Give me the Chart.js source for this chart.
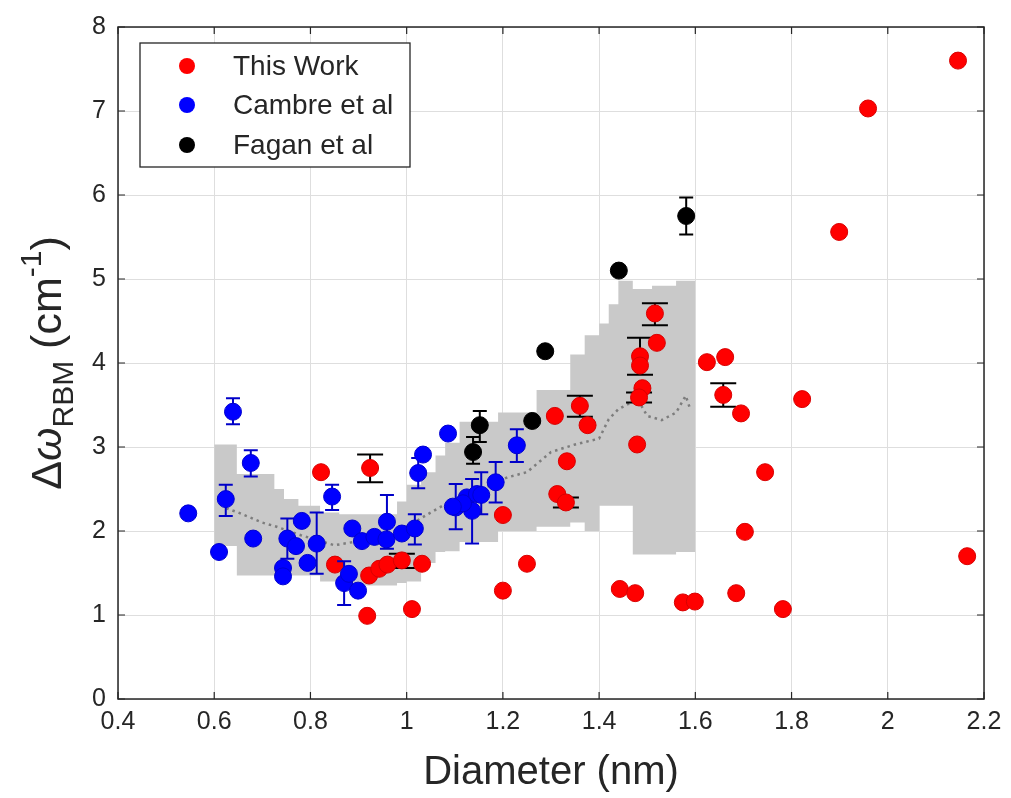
<!DOCTYPE html>
<html><head><meta charset="utf-8">
<script src="https://cdn.jsdelivr.net/npm/chart.js@4.4.1/dist/chart.umd.min.js"></script>
<style>html,body{margin:0;padding:0;background:#fff;}canvas{display:block;}</style>
</head><body>
<canvas id="c" width="1011" height="798"></canvas>
<script>
// ---- Data ----
const seriesNames = ['This Work', 'Cambre et al', 'Fagan et al'];

const redX = [0.822,0.924,0.851,0.918,0.922,0.943,0.960,0.990,1.032,1.011,1.200,1.200,1.250,1.308,1.360,1.376,1.333,1.313,1.331,1.443,1.475,1.479,1.485,1.485,1.490,1.483,1.516,1.520,1.574,1.599,1.624,1.662,1.658,1.695,1.822,1.745,1.703,2.165,1.685,1.782,1.899,1.959,2.146];
const redY = [2.70,2.75,1.60,0.99,1.47,1.55,1.60,1.65,1.61,1.07,2.19,1.29,1.61,3.37,3.49,3.26,2.83,2.44,2.34,1.31,1.26,3.03,4.08,3.97,3.70,3.59,4.59,4.24,1.15,1.16,4.01,4.07,3.62,3.40,3.57,2.70,1.99,1.70,1.26,1.07,5.56,7.03,7.60];
const redErrLow  = [null,2.58,null,null,null,null,null,1.56,null,null,null,null,null,null,3.36,null,null,null,2.28,null,null,null,3.86,null,null,3.53,4.45,null,null,null,null,null,3.48,null,null,null,null,null,null,null,null,null,null];
const redErrHigh = [null,2.91,null,null,null,null,null,1.73,null,null,null,null,null,null,3.61,null,null,null,2.40,null,null,null,4.30,null,null,3.65,4.71,null,null,null,null,null,3.76,null,null,null,null,null,null,null,null,null,null];

const blueX = [0.546,0.610,0.624,0.639,0.676,0.681,0.845,0.782,0.752,0.770,0.813,0.794,0.743,0.743,0.887,0.870,0.899,0.880,0.907,0.933,0.959,0.958,0.990,1.017,1.086,1.034,1.024,1.229,1.185,1.102,1.125,1.146,1.155,1.136,1.117,1.096];
const blueY = [2.21,1.75,2.38,3.42,2.81,1.91,2.41,2.12,1.91,1.82,1.85,1.62,1.56,1.46,2.03,1.38,1.29,1.49,1.88,1.93,2.11,1.90,1.97,2.03,3.16,2.91,2.69,3.02,2.58,2.28,2.40,2.44,2.43,2.24,2.33,2.29];
const blueErrLow  = [null,null,2.18,3.27,2.65,null,2.25,null,1.67,null,1.49,null,null,null,null,1.12,null,null,null,null,1.79,null,null,1.84,null,null,2.51,2.82,2.34,2.02,null,null,2.20,1.85,null,null];
const blueErrHigh = [null,null,2.55,3.58,2.96,null,2.55,null,2.15,null,2.22,null,null,null,null,1.64,null,null,null,null,2.43,null,null,2.20,null,null,2.87,3.21,2.82,2.56,null,null,2.70,2.62,null,null];

const blackX = [1.138,1.152,1.261,1.288,1.441,1.581];
const blackY = [2.94,3.26,3.31,4.14,5.10,5.75];
const blackErrLow  = [2.80,3.06,null,null,null,5.53];
const blackErrHigh = [3.12,3.43,null,null,null,5.97];

// shaded spread band (stepped)
const bandX     = [0.600,0.647,0.725,0.745,0.775,0.820,0.860,0.980,1.000,1.030,1.060,1.080,1.110,1.190,1.270,1.340,1.370,1.400,1.420,1.440,1.470,1.510,1.560,1.600];
const bandUpper = [3.03,2.68,2.50,2.38,2.30,2.22,2.20,2.35,2.55,2.70,2.90,3.05,3.30,3.41,3.68,4.10,4.33,4.47,4.70,4.98,4.88,4.92,4.98,4.98];
const bandLower = [1.82,1.47,1.47,1.47,1.47,1.40,1.35,1.38,1.40,1.62,1.75,1.76,1.87,2.00,2.05,2.10,2.00,2.30,2.30,2.30,1.72,1.72,1.75,1.75];

// running mean (dotted)
const meanX = [0.625,0.650,0.700,0.730,0.780,0.850,0.900,0.950,1.000,1.050,1.090,1.150,1.210,1.250,1.300,1.350,1.400,1.420,1.440,1.480,1.500,1.530,1.560,1.580,1.590];
const meanY = [2.27,2.22,2.10,2.05,1.95,1.83,1.88,1.95,2.05,2.22,2.35,2.48,2.64,2.70,2.94,3.03,3.10,3.33,3.45,3.57,3.37,3.32,3.41,3.61,3.44];

const xTickValues = [0.4,0.6,0.8,1.0,1.2,1.4,1.6,1.8,2.0,2.2];
const xTickLabels = ['0.4','0.6','0.8','1','1.2','1.4','1.6','1.8','2','2.2'];
const yTickLabels = ['0','1','2','3','4','5','6','7','8'];

// ---- Build ----
const FONT = "'Liberation Sans', Arial, Helvetica, sans-serif";
const AX = '#262626';
const pts = (xs, ys) => xs.map((x, i) => ({x: x, y: ys[i]}));

const datasets = [
  {label: seriesNames[0], data: pts(redX, redY), errLow: redErrLow, errHigh: redErrHigh, errColor: '#000000', capHalf: 13,
   backgroundColor: '#ff0000', borderColor: '#d80000', borderWidth: 1, pointRadius: 8.5, order: 3},
  {label: seriesNames[1], data: pts(blueX, blueY), errLow: blueErrLow, errHigh: blueErrHigh, errColor: '#0000c8', capHalf: 7,
   backgroundColor: '#0000ff', borderColor: '#0000d0', borderWidth: 1, pointRadius: 8.5, order: 2},
  {label: seriesNames[2], data: pts(blackX, blackY), errLow: blackErrLow, errHigh: blackErrHigh, errColor: '#000000', capHalf: 7,
   backgroundColor: '#000000', borderColor: '#000000', borderWidth: 1, pointRadius: 8.5, order: 1},
  {type: 'line', label: 'band-upper', data: pts(bandX, bandUpper), stepped: true, fill: '+1', backgroundColor: '#c9c9c9',
   borderColor: 'rgba(0,0,0,0)', borderWidth: 0, pointRadius: 0, order: 6},
  {type: 'line', label: 'band-lower', data: pts(bandX, bandLower), stepped: true, fill: false,
   borderColor: 'rgba(0,0,0,0)', borderWidth: 0, pointRadius: 0, order: 6},
  {type: 'line', label: 'mean', data: pts(meanX, meanY), fill: false, borderColor: '#7d7d7d', borderWidth: 2.5,
   borderDash: [2.5, 4], pointRadius: 0, tension: 0, order: 4}
];

const decor = {
  id: 'decor',
  beforeDatasetDraw(chart, args) {
    const ds = chart.data.datasets[args.index];
    if (!ds.errLow) return;
    const xs = chart.scales.x, ys = chart.scales.y, ctx = chart.ctx;
    ctx.save();
    ctx.strokeStyle = ds.errColor; ctx.lineWidth = 2;
    ds.data.forEach((p, i) => {
      const lo = ds.errLow[i], hi = ds.errHigh[i];
      if (lo == null || hi == null) return;
      const px = xs.getPixelForValue(p.x), pl = ys.getPixelForValue(lo), ph = ys.getPixelForValue(hi);
      ctx.beginPath();
      ctx.moveTo(px, pl); ctx.lineTo(px, ph);
      ctx.moveTo(px - ds.capHalf, pl); ctx.lineTo(px + ds.capHalf, pl);
      ctx.moveTo(px - ds.capHalf, ph); ctx.lineTo(px + ds.capHalf, ph);
      ctx.stroke();
    });
    ctx.restore();
  },
  afterDraw(chart) {
    const ctx = chart.ctx, a = chart.chartArea, xs = chart.scales.x, ys = chart.scales.y;
    ctx.save();
    // frame
    ctx.strokeStyle = AX; ctx.lineWidth = 1.5;
    ctx.strokeRect(a.left, a.top, a.right - a.left, a.bottom - a.top);
    // inward ticks on all sides
    ctx.lineWidth = 1.2;
    ctx.beginPath();
    xTickValues.forEach(v => {
      const px = xs.getPixelForValue(v);
      ctx.moveTo(px, a.bottom); ctx.lineTo(px, a.bottom - 7);
      ctx.moveTo(px, a.top); ctx.lineTo(px, a.top + 7);
    });
    yTickLabels.forEach(l => {
      const py = ys.getPixelForValue(+l);
      ctx.moveTo(a.left, py); ctx.lineTo(a.left + 7, py);
      ctx.moveTo(a.right, py); ctx.lineTo(a.right - 7, py);
    });
    ctx.stroke();

    // legend
    const L = {left: 140, top: 43, right: 410, bottom: 167};
    ctx.fillStyle = '#ffffff';
    ctx.fillRect(L.left, L.top, L.right - L.left, L.bottom - L.top);
    ctx.strokeStyle = AX; ctx.lineWidth = 1.3;
    ctx.strokeRect(L.left, L.top, L.right - L.left, L.bottom - L.top);
    const rowsY = [66, 105, 145];
    chart.data.datasets.slice(0, 3).forEach((ds, i) => {
      ctx.beginPath();
      ctx.arc(187, rowsY[i], 8, 0, Math.PI * 2);
      ctx.fillStyle = ds.backgroundColor; ctx.fill();
      ctx.fillStyle = AX;
      ctx.font = '28px ' + FONT;
      ctx.textAlign = 'left'; ctx.textBaseline = 'middle';
      ctx.fillText(ds.label, 233, rowsY[i] + 1);
    });

    // x title
    ctx.fillStyle = AX;
    ctx.font = '40px ' + FONT;
    ctx.textAlign = 'center'; ctx.textBaseline = 'alphabetic';
    ctx.fillText('Diameter (nm)', (a.left + a.right) / 2, 784);

    // y title with sub/superscripts
    const segs = [
      {t: 'Δ', size: 43, dy: 0, st: ''},
      {t: 'ω', size: 43, dy: 0, st: 'italic '},
      {t: 'RBM', size: 30, dy: 12, st: ''},
      {t: ' (cm', size: 43, dy: 0, st: ''},
      {t: '-1', size: 30, dy: -20, st: ''},
      {t: ')', size: 43, dy: 0, st: ''}
    ];
    let total = 0;
    segs.forEach(s => { ctx.font = s.st + s.size + 'px ' + FONT; s.w = ctx.measureText(s.t).width; total += s.w; });
    ctx.translate(61, (a.top + a.bottom) / 2);
    ctx.rotate(-Math.PI / 2);
    ctx.textAlign = 'left';
    let cx = -total / 2;
    segs.forEach(s => {
      ctx.font = s.st + s.size + 'px ' + FONT;
      ctx.fillText(s.t, cx, s.dy);
      cx += s.w;
    });
    ctx.restore();
  }
};

new Chart(document.getElementById('c'), {
  type: 'scatter',
  data: {datasets: datasets},
  options: {
    responsive: false, animation: false,
    layout: {padding: {left: 0, right: 27, top: 21, bottom: 0}},
    plugins: {legend: {display: false}, tooltip: {enabled: false}},
    scales: {
      x: {
        type: 'linear', min: 0.4, max: 2.2,
        afterBuildTicks: s => { s.ticks = xTickValues.map(v => ({value: v})); },
        ticks: {callback: (v) => xTickLabels[xTickValues.findIndex(t => Math.abs(t - v) < 1e-6)],
                font: {family: FONT, size: 25}, color: AX, padding: 8, maxRotation: 0, autoSkip: false},
        grid: {color: '#dedede', lineWidth: 1, drawTicks: false},
        border: {display: false},
        afterFit: s => { s.height = 99; }
      },
      y: {
        min: 0, max: 8,
        afterBuildTicks: s => { s.ticks = yTickLabels.map(l => ({value: +l})); },
        ticks: {callback: (v) => yTickLabels[Math.round(v)], font: {family: FONT, size: 25}, color: AX, padding: 12},
        grid: {color: '#dedede', lineWidth: 1, drawTicks: false},
        border: {display: false},
        afterFit: s => { s.width = 118; }
      }
    }
  },
  plugins: [decor]
});
</script>
</body></html>
